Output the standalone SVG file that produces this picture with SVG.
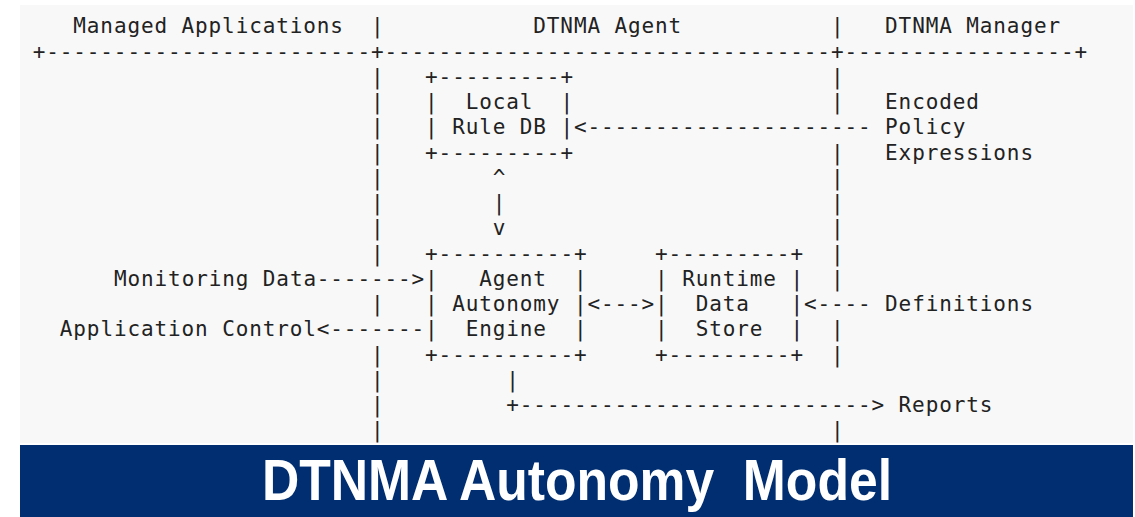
<svg xmlns="http://www.w3.org/2000/svg" width="1135" height="517" viewBox="0 0 1135 517">
<style>
  .t { font-family: "DejaVu Sans Mono", "Liberation Mono", monospace; font-size: 21px; letter-spacing: 0.886px; fill: #222222; white-space: pre; }
  .title { font-family: "Liberation Sans", Arial, sans-serif; font-size: 57px; font-weight: bold; fill: #ffffff; white-space: pre; }
</style>
<rect x="0" y="0" width="1135" height="517" fill="#ffffff"/>
<rect x="20" y="5" width="1113" height="438" fill="#f8f8f8"/>

<g id="lanes" class="t">
  <text x="73.3" y="33.4">Managed Applications</text>
  <text x="533.3" y="33.4">DTNMA Agent</text>
  <text x="885.1" y="33.4">DTNMA Manager</text>
  <text x="32.7" y="58.65">+------------------------+---------------------------------+-----------------+</text>
  <text x="371" y="33.4">|</text>
  <text x="371" y="83.9">|</text>
  <text x="371" y="109.15">|</text>
  <text x="371" y="134.4">|</text>
  <text x="371" y="159.65">|</text>
  <text x="371" y="184.9">|</text>
  <text x="371" y="210.15">|</text>
  <text x="371" y="235.4">|</text>
  <text x="371" y="260.65">|</text>
  <text x="371" y="311.15">|</text>
  <text x="371" y="361.65">|</text>
  <text x="371" y="386.9">|</text>
  <text x="371" y="412.15">|</text>
  <text x="371" y="437.4">|</text>
  <text x="831" y="33.4">|</text>
  <text x="831" y="83.9">|</text>
  <text x="831" y="109.15">|</text>
  <text x="831" y="159.65">|</text>
  <text x="831" y="184.9">|</text>
  <text x="831" y="210.15">|</text>
  <text x="831" y="235.4">|</text>
  <text x="831" y="260.65">|</text>
  <text x="831" y="285.9">|</text>
  <text x="831" y="336.4">|</text>
  <text x="831" y="361.65">|</text>
  <text x="831" y="437.4">|</text>
</g>

<g id="local-rule-db" class="t">
  <text x="425.1" y="83.9" xml:space="preserve">+---------+</text>
  <text x="425.1" y="109.15" xml:space="preserve">|  Local  |</text>
  <text x="425.1" y="134.4" xml:space="preserve">| Rule DB |</text>
  <text x="425.1" y="159.65" xml:space="preserve">+---------+</text>
</g>

<g id="agent-autonomy-engine" class="t">
  <text x="425.1" y="260.65" xml:space="preserve">+----------+</text>
  <text x="425.1" y="285.9" xml:space="preserve">|   Agent  |</text>
  <text x="425.1" y="311.15" xml:space="preserve">| Autonomy |</text>
  <text x="425.1" y="336.4" xml:space="preserve">|  Engine  |</text>
  <text x="425.1" y="361.65" xml:space="preserve">+----------+</text>
</g>

<g id="runtime-data-store" class="t">
  <text x="655.1" y="260.65" xml:space="preserve">+---------+</text>
  <text x="655.1" y="285.9" xml:space="preserve">| Runtime |</text>
  <text x="655.1" y="311.15" xml:space="preserve">|  Data   |</text>
  <text x="655.1" y="336.4" xml:space="preserve">|  Store  |</text>
  <text x="655.1" y="361.65" xml:space="preserve">+---------+</text>
</g>

<g id="external-labels" class="t">
  <text x="885.1" y="109.15">Encoded</text>
  <text x="885.1" y="134.4">Policy</text>
  <text x="885.1" y="159.65">Expressions</text>
  <text x="114" y="285.9">Monitoring Data</text>
  <text x="885.1" y="311.15">Definitions</text>
  <text x="59.8" y="336.4">Application Control</text>
  <text x="898.6" y="412.15">Reports</text>
</g>

<g id="connectors" class="t">
  <text x="573.9" y="134.4">&lt;---------------------</text>
  <text x="492.7" y="184.9">^</text>
  <text x="492.7" y="210.15">|</text>
  <text x="492.7" y="235.4">v</text>
  <text x="316.8" y="285.9">-------&gt;</text>
  <text x="587.4" y="311.15">&lt;---&gt;</text>
  <text x="803.9" y="311.15">&lt;----</text>
  <text x="316.8" y="336.4">&lt;-------</text>
  <text x="506.3" y="386.9">|</text>
  <text x="506.3" y="412.15">+--------------------------&gt;</text>
</g>

<rect x="20" y="445" width="1113" height="72" fill="#002e70"/>
<text class="title" x="262" y="500" textLength="630" lengthAdjust="spacingAndGlyphs" xml:space="preserve">DTNMA Autonomy  Model</text>
</svg>
